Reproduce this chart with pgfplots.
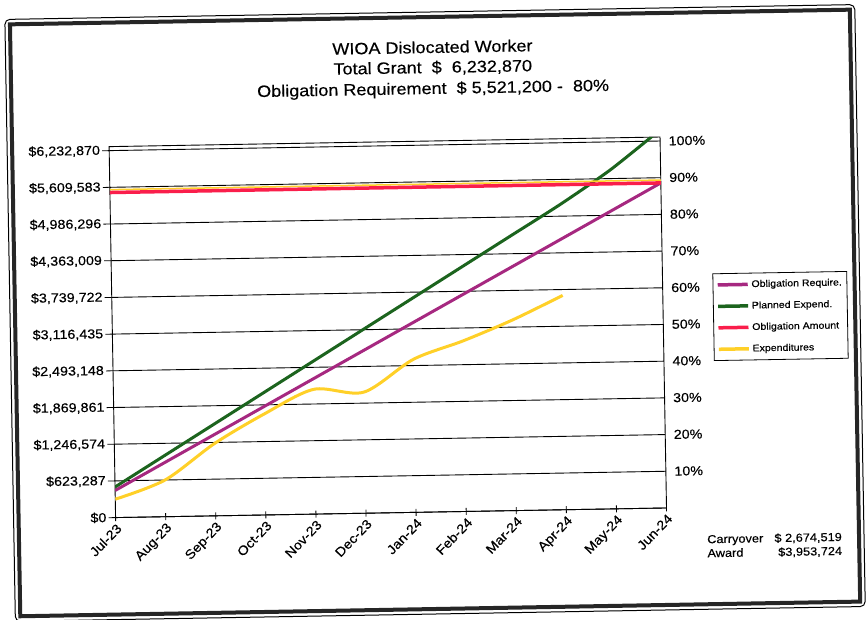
\documentclass[border=0pt]{standalone}
\usepackage{pgfplots}
\pgfplotsset{compat=1.18}
\usepackage{fontspec}
\setmainfont{Liberation Sans}[FakeStretch=1.1, FakeBold=0.35]
\definecolor{cpur}{RGB}{166,40,128}
\definecolor{cgrn}{RGB}{28,100,30}
\definecolor{cred}{RGB}{250,30,75}
\definecolor{cyel}{RGB}{255,208,40}
\begin{document}
\begin{tikzpicture}
\useasboundingbox (0pt,0pt) rectangle (867pt,619pt);
\begin{scope}[transform canvas={rotate around={1:(433.5pt,309.5pt)}}]
% frame
\draw[line width=1pt, rounded corners=5pt] (10pt,5pt) rectangle (860pt,607pt);
\draw[line width=4pt, draw=black!85] (15pt,10pt) rectangle (855pt,602pt);
% title
\node[anchor=base] at (437pt,566pt) {\fontsize{16.4}{19}\selectfont WIOA Dislocated Worker};
\node[anchor=base] at (437pt,546pt) {\fontsize{16.4}{19}\selectfont Total Grant~~\$~~6,232,870};
\node[anchor=base] at (437pt,525pt) {\fontsize{16.4}{19}\selectfont Obligation Requirement~~\$ 5,521,200 -~~80\%};
% carryover
\node[anchor=base west, inner sep=0pt] at (703pt,71pt) {\fontsize{11.6}{13}\selectfont Carryover};
\node[anchor=base east, inner sep=0pt] at (838pt,71pt) {\fontsize{11.6}{13}\selectfont \$ 2,674,519};
\node[anchor=base west, inner sep=0pt] at (703pt,57pt) {\fontsize{11.6}{13}\selectfont Award};
\node[anchor=base east, inner sep=0pt] at (838pt,57pt) {\fontsize{11.6}{13}\selectfont \$3,953,724};
\begin{axis}[
  at={(112pt,107pt)}, anchor=south west, scale only axis,
  width=551pt, height=371pt,
  xmin=0, xmax=11, ymin=0, ymax=6300800,
  axis line style={black, line width=0.9pt},
  xtick={0,1,2,3,4,5,6,7,8,9,10,11},
  xticklabels={Jul-23,Aug-23,Sep-23,Oct-23,Nov-23,Dec-23,Jan-24,Feb-24,Mar-24,Apr-24,May-24,Jun-24},
  x tick label style={rotate=45, anchor=north east, font=\fontsize{13}{15}\selectfont, inner sep=1pt},
  xtick pos=bottom, ytick pos=left,
  xtick align=center, ytick align=outside,
  major tick length=7pt,
  tick style={black, line width=0.8pt},
  ytick={0,623287,1246574,1869861,2493148,3116435,3739722,4363009,4986296,5609583,6232870},
  yticklabels={{\$0},{\$623,287},{\$1,246,574},{\$1,869,861},{\$2,493,148},{\$3,116,435},{\$3,739,722},{\$4,363,009},{\$4,986,296},{\$5,609,583},{\$6,232,870}},
  y tick label style={font=\fontsize{13}{15}\selectfont, inner sep=2pt},
  ymajorgrids, grid style={black, line width=0.9pt},
  scaled y ticks=false,
  legend style={at={(1.0907,0.630)}, anchor=north west, draw=black, line width=0.8pt,
    font=\fontsize{9.6}{11}\selectfont, inner xsep=3pt, inner ysep=5pt, row sep=9pt,
    cells={anchor=west}},
  legend image code/.code={\draw[#1, line width=3.5pt] (0pt,0pt) -- (30pt,0pt);},
]
\addplot[cpur, line width=3pt] coordinates {(0,460100) (1,920200) (2,1380300) (3,1840400) (4,2300500) (5,2760600) (6,3220700) (7,3680800) (8,4140900) (9,4601000) (10,5061100) (11,5521200)};
\addlegendentry{Obligation Require.}
\addplot[cgrn, line width=3pt, smooth, tension=0.4] coordinates {(0,519406) (1,1038812) (2,1558218) (3,2077623) (4,2597029) (5,3116435) (6,3635841) (7,4155247) (8,4674653) (9,5194058) (10,5760000) (11,6420000)};
\addlegendentry{Planned Expend.}
\addplot[cyel, line width=1.5pt, forget plot] coordinates {(0,5570000) (11,5570000)};
\addplot[cred, line width=3.5pt] coordinates {(0,5521200) (11,5521200)};
\addlegendentry{Obligation Amount}
\addplot[cyel, line width=3pt, smooth, tension=0.5] coordinates {(0,312000) (1,623000) (2,1228000) (3,1714000) (4,2119000) (5,2057000) (6,2599000) (7,2898000) (8,3241000) (9,3640000)};
\addlegendentry{Expenditures}
\end{axis}
\begin{axis}[
  at={(112pt,107pt)}, anchor=south west, scale only axis,
  width=551pt, height=371pt,
  xmin=0, xmax=11, ymin=0, ymax=101.09,
  axis x line=none, axis y line*=right,
  y axis line style={draw=none},
  ytick={10,20,30,40,50,60,70,80,90,100},
  yticklabels={10\%,20\%,30\%,40\%,50\%,60\%,70\%,80\%,90\%,100\%},
  major tick length=0pt,
  y tick label style={font=\fontsize{13}{15}\selectfont, anchor=west, xshift=5pt},
]
\end{axis}
\end{scope}
\end{tikzpicture}
\end{document}
